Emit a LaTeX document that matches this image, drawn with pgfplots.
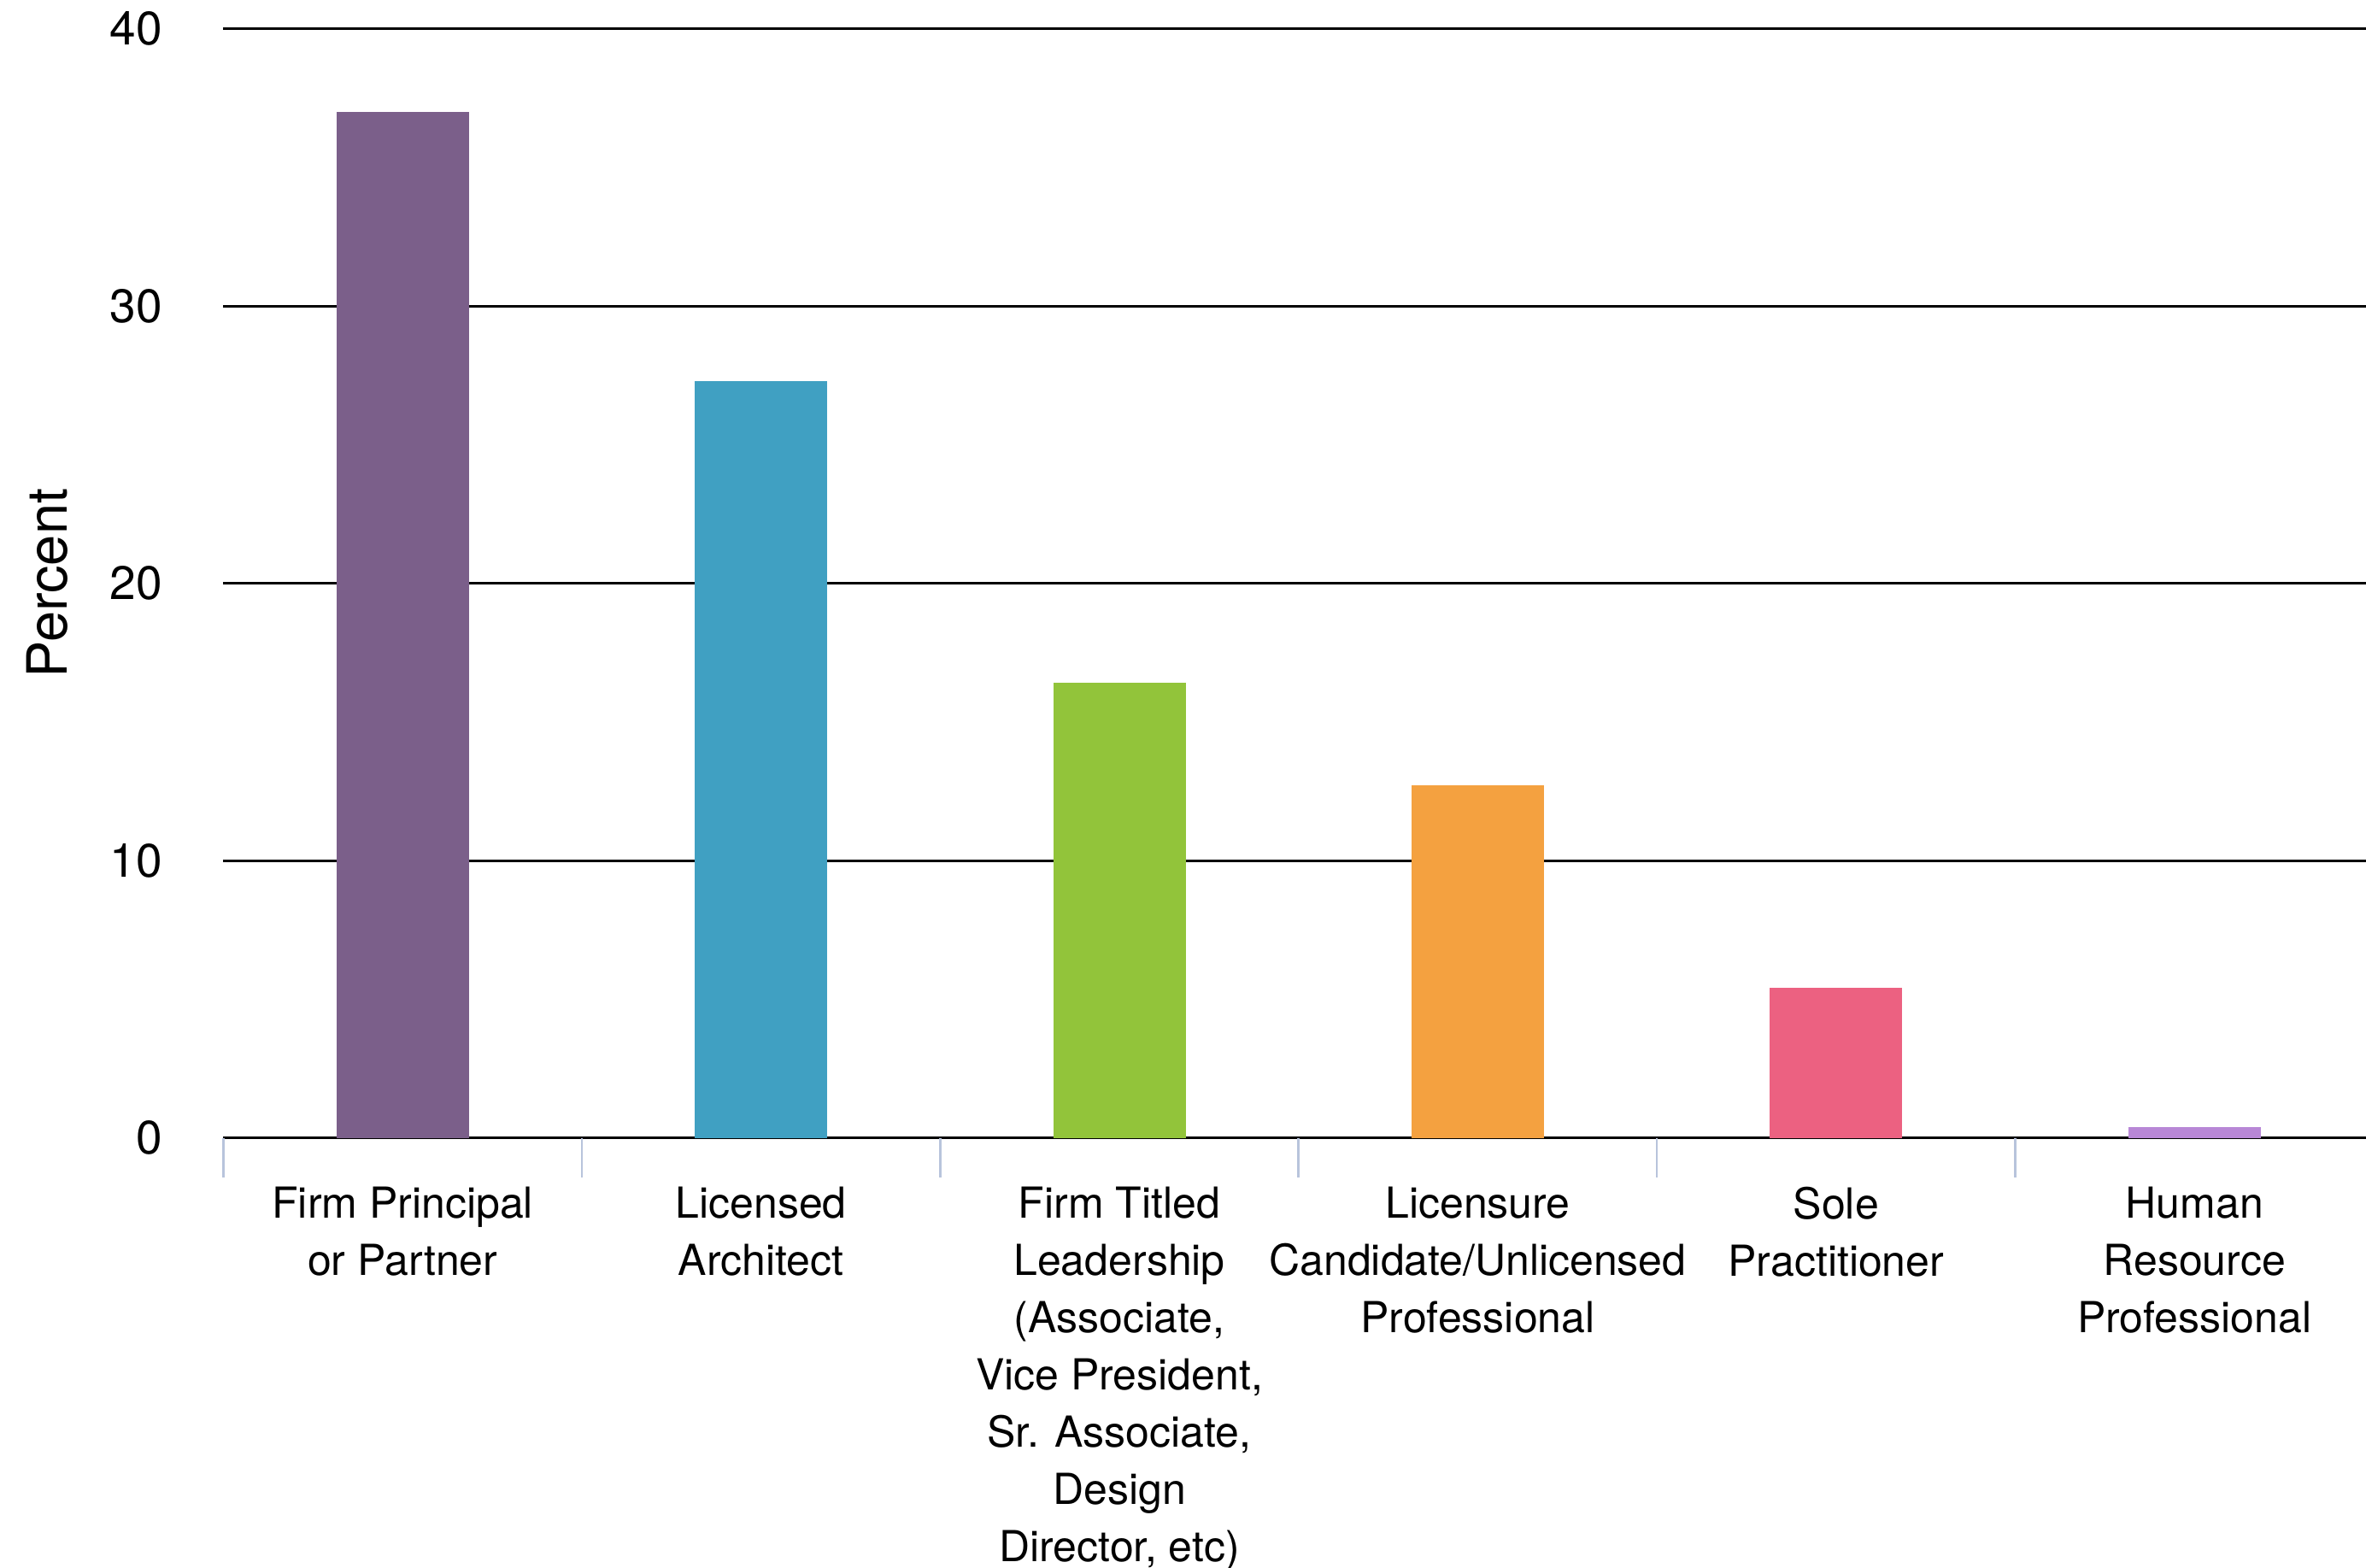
\documentclass[border=0pt]{standalone}
\usepackage{pgfplots}
\pgfplotsset{compat=1.18}
\usepackage{fontspec}
\setmainfont{TeX Gyre Heros}
\definecolor{c1}{HTML}{7B5F8A}
\definecolor{c2}{HTML}{40A0C2}
\definecolor{c3}{HTML}{92C43A}
\definecolor{c4}{HTML}{F4A140}
\definecolor{c5}{HTML}{EC6181}
\definecolor{c6}{HTML}{B887D6}
\definecolor{sepc}{HTML}{B8C4DC}
\begin{document}
\begin{tikzpicture}
\begin{axis}[
  name=ax, at={(0,0)}, anchor=south west,
  scale only axis, width=503.3pt, height=259.6pt,
  xmin=-0.5, xmax=5.5, ymin=0, ymax=40,
  axis x line*=bottom, axis y line*=left,
  y axis line style={draw=none},
  x axis line style={black, line width=0.6pt, -},
  ytick={0,10,20,30,40},
  ymajorgrids, grid style={black, line width=0.6pt},
  major tick length=0pt,
  ytick style={draw=none},
  xtick={0,1,2,3,4,5},
  xticklabels={{Firm Principal\\or Partner},{Licensed\\Architect},{Firm Titled\\Leadership\\(Associate,\\Vice President,\\Sr. Associate,\\Design\\Director, etc)},{Licensure\\Candidate/Unlicensed\\Professional},{Sole\\Practitioner},{Human\\Resource\\Professional}},
  xticklabel style={align=center, anchor=north, yshift=-8pt, font=\fontsize{10}{13.4}\selectfont},
  extra x ticks={-0.5,0.5,1.5,2.5,3.5,4.5,5.5},
  extra x tick labels={},
  extra x tick style={major tick length=9.2pt, tick align=outside, tick style={draw=sepc, line width=0.5pt}},
  yticklabel style={font=\fontsize{11}{13}\selectfont, xshift=-10.8pt},
  /pgf/number format/assume math mode=true,
  ylabel={Percent},
  every axis y label/.style={at={(axis description cs:-0.0818,0.5)}, rotate=90, anchor=center, font=\fontsize{13}{15}\selectfont},
]
\addplot[ybar, bar width=31pt, bar shift=0pt, fill=c1, draw=none] coordinates {(0,37.0)};
\addplot[ybar, bar width=31pt, bar shift=0pt, fill=c2, draw=none] coordinates {(1,27.3)};
\addplot[ybar, bar width=31pt, bar shift=0pt, fill=c3, draw=none] coordinates {(2,16.4)};
\addplot[ybar, bar width=31pt, bar shift=0pt, fill=c4, draw=none] coordinates {(3,12.7)};
\addplot[ybar, bar width=31pt, bar shift=0pt, fill=c5, draw=none] coordinates {(4,5.4)};
\addplot[ybar, bar width=31pt, bar shift=0pt, fill=c6, draw=none] coordinates {(5,0.4)};
\end{axis}
\pgfresetboundingbox
\useasboundingbox (-52.3pt,-100.5pt) rectangle (501.5pt,266.3pt);
\end{tikzpicture}
\end{document}
